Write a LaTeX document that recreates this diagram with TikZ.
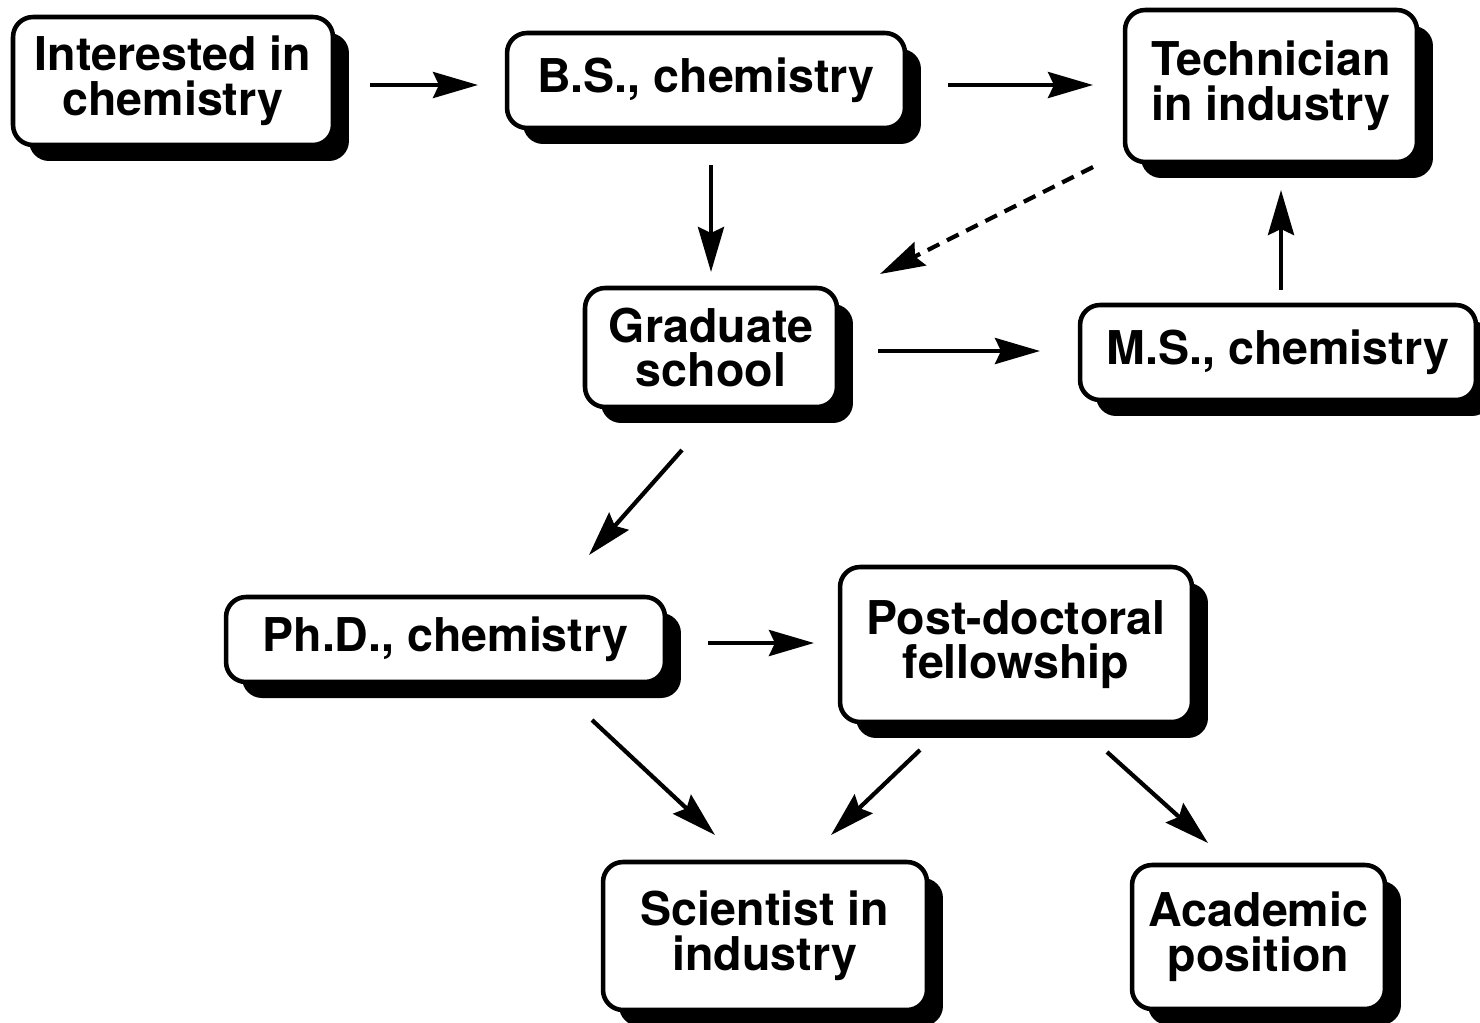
\documentclass[tikz,border=0pt]{standalone}
\usepackage{fontspec}
\setmainfont{TeX Gyre Heros}
\usetikzlibrary{arrows.meta,shadows}

\begin{document}
\begin{tikzpicture}[x=0.02cm,y=-0.02cm,
  box/.style={draw,line width=2.6pt,rounded corners=0.4cm,fill=white,align=center,
    inner sep=0pt,font=\fontsize{26.5}{25.5}\selectfont\bfseries,
    drop shadow={shadow xshift=0.32cm,shadow yshift=-0.32cm,fill=black,opacity=1}},
  arr/.style={-{Stealth[length=0.9cm,width=0.52cm,inset=0.12cm]},line width=2.4pt}]
\useasboundingbox (0,0) rectangle (1480,1022);
\clip (0,0) rectangle (1480,1022);

\node[box,minimum width=6.4cm,minimum height=2.56cm] (inter) at (173,81) {Interested in\\chemistry};
\node[box,minimum width=7.96cm,minimum height=1.9cm] (bs) at (706,80.5) {B.S., chemistry};
\node[box,minimum width=5.84cm,minimum height=3.04cm] (tech) at (1271,86) {Technician\\in industry};
\node[box,minimum width=5.04cm,minimum height=2.38cm] (grad) at (711,347.5) {Graduate\\school};
\node[box,minimum width=7.92cm,minimum height=1.9cm] (ms) at (1278,352.5) {M.S., chemistry};
\node[box,minimum width=8.78cm,minimum height=1.7cm] (phd) at (445.5,639.5) {Ph.D., chemistry};
\node[box,minimum width=7.04cm,minimum height=3.1cm] (postdoc) at (1016,644.5) {Post-doctoral\\fellowship};
\node[box,minimum width=6.48cm,minimum height=2.96cm] (sci) at (765,936) {Scientist in\\industry};
\node[box,minimum width=5.06cm,minimum height=2.88cm] (acad) at (1258.5,937) {Academic\\position};

% arrow ends
\coordinate (v1) at (370,85);
\coordinate (v2) at (478,85);
\coordinate (v3) at (948,85);
\coordinate (v4) at (1093,85);
\coordinate (v5) at (711,165);
\coordinate (v6) at (711,272);
\coordinate (v7) at (1093,167);
\coordinate (v8) at (880,274);
\coordinate (v9) at (1281,290);
\coordinate (v10) at (1281,190);
\coordinate (v11) at (878,351);
\coordinate (v12) at (1040,351);
\coordinate (v13) at (682,450);
\coordinate (v14) at (589,555);
\coordinate (v15) at (708,643);
\coordinate (v16) at (814,643);
\coordinate (v17) at (592,720);
\coordinate (v18) at (715,835);
\coordinate (v19) at (920,750);
\coordinate (v20) at (831,835);
\coordinate (v21) at (1107,752);
\coordinate (v22) at (1208,843);

\draw[arr] (v1) -- (v2);
\draw[arr] (v3) -- (v4);
\draw[arr] (v5) -- (v6);
\draw[arr,dash pattern=on 0.26cm off 0.17cm] (v7) -- (v8);
\draw[arr] (v9) -- (v10);
\draw[arr] (v11) -- (v12);
\draw[arr] (v13) -- (v14);
\draw[arr] (v15) -- (v16);
\draw[arr] (v17) -- (v18);
\draw[arr] (v19) -- (v20);
\draw[arr] (v21) -- (v22);
\end{tikzpicture}
\end{document}
